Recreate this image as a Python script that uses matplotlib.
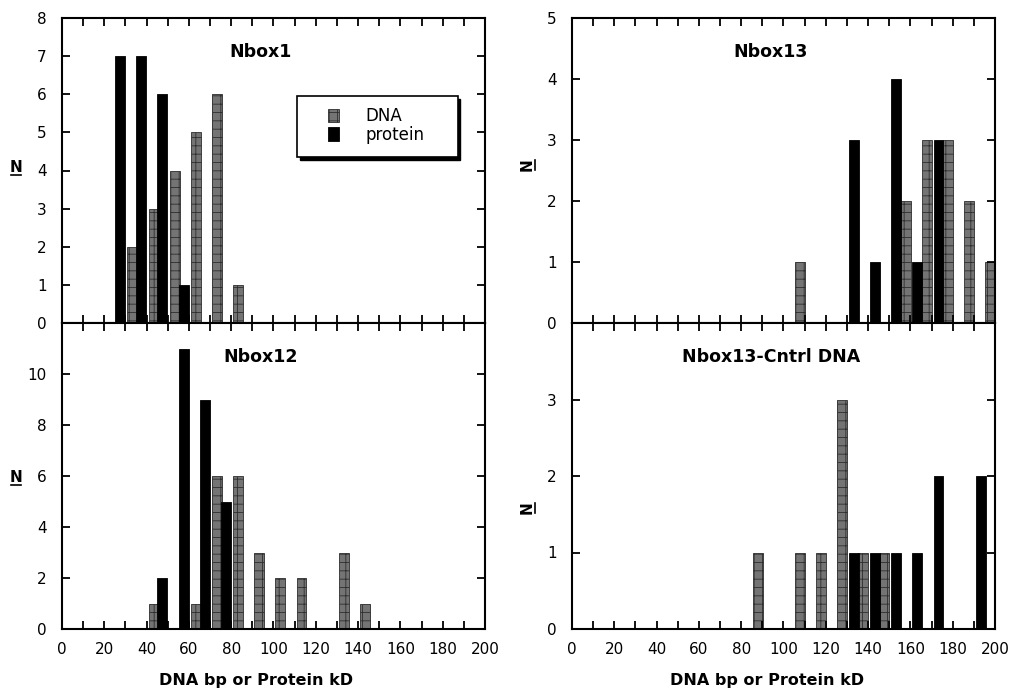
import matplotlib
matplotlib.use('Agg')
import matplotlib.pyplot as plt
from matplotlib.patches import Rectangle
from matplotlib.lines import Line2D
from matplotlib.ticker import MultipleLocator

# bins (start of 10-unit bin) and counts for each panel
nbox1_dna_bins = [30, 40, 50, 60, 70, 80]
nbox1_dna_n = [2, 3, 4, 5, 6, 1]
nbox1_prot_bins = [20, 30, 40, 50]
nbox1_prot_n = [7, 7, 6, 1]

nbox12_dna_bins = [40, 60, 70, 80, 90, 100, 110, 130, 140]
nbox12_dna_n = [1, 1, 6, 6, 3, 2, 2, 3, 1]
nbox12_prot_bins = [40, 50, 60, 70]
nbox12_prot_n = [2, 11, 9, 5]

nbox13_dna_bins = [100, 150, 160, 170, 180, 190]
nbox13_dna_n = [1, 2, 3, 3, 2, 1]
nbox13_prot_bins = [130, 140, 150, 160, 170]
nbox13_prot_n = [3, 1, 4, 1, 3]

cntrl_dna_bins = [80, 100, 110, 120, 130, 140]
cntrl_dna_n = [1, 1, 1, 3, 1, 1]
cntrl_prot_bins = [130, 140, 150, 160, 170, 190]
cntrl_prot_n = [1, 1, 1, 1, 2, 2]

titles = ['Nbox1', 'Nbox12', 'Nbox13', 'Nbox13-Cntrl DNA']
xlabel = 'DNA bp or Protein kD'

plt.rcParams['font.family'] = ['DejaVu Sans']
plt.rcParams['hatch.linewidth'] = 0.6

DNA_STYLE = dict(facecolor='#747474', edgecolor='#2e2e2e', hatch='++', linewidth=0.6)
PROT_STYLE = dict(facecolor='black', edgecolor='black', linewidth=0.6)
W = 4.7

fig = plt.figure(figsize=(10.12, 6.93), dpi=100)

# axes rectangles in figure fraction
lx, rx, w = 62 / 1012, 572 / 1012, 423 / 1012
top_b, top_h = 1 - 323 / 693, 305 / 693
bot_b, bot_h = 1 - 629 / 693, 306 / 693

ax1 = fig.add_axes([lx, top_b, w, top_h])
ax2 = fig.add_axes([lx, bot_b, w, bot_h])
ax3 = fig.add_axes([rx, top_b, w, top_h])
ax4 = fig.add_axes([rx, bot_b, w, bot_h])


def draw(ax, dna_bins, dna_n, prot_bins, prot_n, dna_off, prot_off):
    ax.bar([b + dna_off for b in dna_bins], dna_n, W, **DNA_STYLE, label='DNA')
    ax.bar([b + prot_off for b in prot_bins], prot_n, W, **PROT_STYLE, label='protein')


# left column: DNA on the left of the bin, protein on the right; right column swapped
draw(ax1, nbox1_dna_bins, nbox1_dna_n, nbox1_prot_bins, nbox1_prot_n, 3.25, 7.5)
draw(ax2, nbox12_dna_bins, nbox12_dna_n, nbox12_prot_bins, nbox12_prot_n, 3.25, 7.5)
draw(ax3, nbox13_dna_bins, nbox13_dna_n, nbox13_prot_bins, nbox13_prot_n, 7.75, 3.3)
draw(ax4, cntrl_dna_bins, cntrl_dna_n, cntrl_prot_bins, cntrl_prot_n, 7.75, 3.3)

ylims = [(0, 8), (0, 12), (0, 5), (0, 4)]
yticks = [range(0, 9), range(0, 11, 2), range(0, 6), range(0, 4)]

for ax, yl, yt, title in zip([ax1, ax2, ax3, ax4], ylims, yticks, titles):
    ax.set_xlim(0, 200)
    ax.set_ylim(*yl)
    ax.set_yticks(list(yt))
    ax.xaxis.set_major_locator(MultipleLocator(20))
    ax.xaxis.set_minor_locator(MultipleLocator(10))
    ax.tick_params(which='both', direction='in', top=True, right=True,
                   length=6, width=1.3, labelsize=11)
    ax.tick_params(axis='y', pad=11)
    ax.tick_params(axis='x', which='both', pad=9)
    for s in ax.spines.values():
        s.set_linewidth(1.5)
    ax.text(0.47, 0.89, title, transform=ax.transAxes, ha='center', va='center',
            fontsize=12.5, fontweight='bold')

for ax in (ax1, ax3):
    ax.tick_params(labelbottom=False)

# legend box with drop shadow
ax1.add_patch(Rectangle((0.562, 0.536), 0.38, 0.2, transform=ax1.transAxes,
                        facecolor='black', edgecolor='black', zorder=5))
ax1.add_patch(Rectangle((0.556, 0.544), 0.38, 0.2, transform=ax1.transAxes,
                        facecolor='white', edgecolor='black', linewidth=1.2, zorder=6))
leg = ax1.legend(loc='center left', bbox_to_anchor=(0.61, 0.647), frameon=False,
                 fontsize=12, handlelength=0.65, handleheight=0.9, handletextpad=1.6,
                 labelspacing=0.05, borderpad=0.0)
leg.set_zorder(7)

# underlined y labels
def ylab(x, y, rot):
    fig.text(x / 1012, 1 - y / 693, 'N', ha='center', va='center',
             fontsize=11, fontweight='bold', rotation=rot)
    if rot == 0:
        fig.add_artist(Line2D([(x - 5) / 1012, (x + 5) / 1012],
                              [1 - (y + 8) / 693] * 2, color='black', lw=1.2))
    else:
        fig.add_artist(Line2D([(x + 8) / 1012] * 2,
                              [1 - (y - 5) / 693, 1 - (y + 5) / 693], color='black', lw=1.2))

ylab(16, 167, 0)
ylab(16, 477, 0)
ylab(527, 165, 90)
ylab(527, 508, 90)

fig.text(256 / 1012, 1 - 680 / 693, xlabel, ha='center', va='center',
         fontsize=11.5, fontweight='bold')
fig.text(767 / 1012, 1 - 680 / 693, xlabel, ha='center', va='center',
         fontsize=11.5, fontweight='bold')

fig.savefig('out.png', dpi=100)
